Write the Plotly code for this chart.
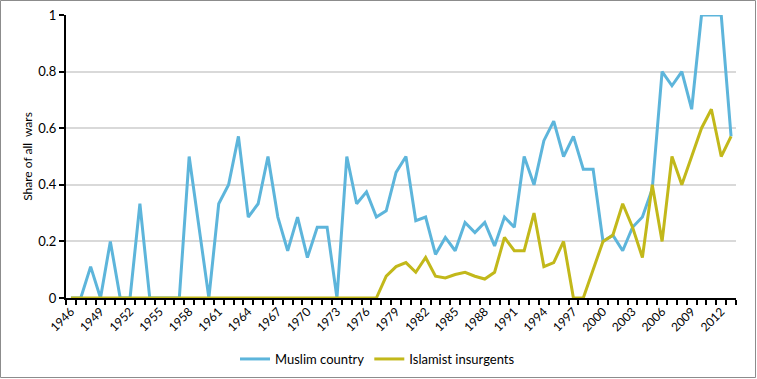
import plotly.graph_objects as go

years = list(range(1946, 2014))

muslim_country = [
    0, 0, 0.111, 0, 0.2, 0, 0, 0.333, 0, 0,
    0, 0, 0.5, 0.25, 0, 0.333, 0.4, 0.571, 0.286, 0.333,
    0.5, 0.286, 0.167, 0.286, 0.143, 0.25, 0.25, 0, 0.5, 0.333,
    0.375, 0.286, 0.308, 0.444, 0.5, 0.273, 0.286, 0.154, 0.214, 0.167,
    0.267, 0.231, 0.267, 0.184, 0.286, 0.25, 0.5, 0.4, 0.556, 0.625,
    0.5, 0.571, 0.455, 0.455, 0.2, 0.222, 0.167, 0.25, 0.286, 0.385,
    0.8, 0.75, 0.8, 0.667, 1.0, 1.0, 1.0, 0.571,
]

islamist_insurgents = [
    0, 0, 0, 0, 0, 0, 0, 0, 0, 0,
    0, 0, 0, 0, 0, 0, 0, 0, 0, 0,
    0, 0, 0, 0, 0, 0, 0, 0, 0, 0,
    0, 0, 0.077, 0.111, 0.125, 0.091, 0.143, 0.077, 0.071, 0.083,
    0.091, 0.077, 0.067, 0.091, 0.214, 0.167, 0.167, 0.3, 0.111, 0.125,
    0.2, 0, 0, 0.1, 0.2, 0.222, 0.333, 0.25, 0.143, 0.4,
    0.2, 0.5, 0.4, 0.5, 0.6, 0.667, 0.5, 0.571,
]

tick_years = list(range(1946, 2013, 3))
tick_labels = [str(y) for y in tick_years]
y_ticks = [0, 0.2, 0.4, 0.6, 0.8, 1]
y_labels = ["0", "0.2", "0.4", "0.6", "0.8", "1"]

W, H = 757, 379
ML, MR, MT, MB = 66, 21, 15, 81
PW, PH = W - ML - MR, H - MT - MB

fig = go.Figure()
fig.add_trace(go.Scatter(x=years, y=muslim_country, mode="lines", name="Muslim country",
                         line=dict(color="#5db5db", width=3)))
fig.add_trace(go.Scatter(x=years, y=islamist_insurgents, mode="lines", name="Islamist insurgents",
                         line=dict(color="#c2b81a", width=3)))

font_family = "Lato, 'Open Sans', sans-serif"

fig.update_layout(
    width=W, height=H,
    margin=dict(l=ML, r=MR, t=MT, b=MB, autoexpand=False),
    paper_bgcolor="white", plot_bgcolor="white",
    font=dict(family=font_family, size=12, color="#000000"),
    showlegend=True,
    legend=dict(orientation="h", x=(235 - ML) / PW, xanchor="left",
                y=(298 - 359) / PH, yanchor="middle",
                font=dict(size=13, family=font_family), itemwidth=30,
                bgcolor="rgba(0,0,0,0)"),
    xaxis=dict(range=[1945.5, 2013.5], tickmode="array", tickvals=tick_years,
               ticktext=tick_labels, tickangle=-45, showgrid=False, automargin=False,
               showline=True, linecolor="black", linewidth=2, ticks="",
               tickfont=dict(size=12), zeroline=False,
               minor=dict(tick0=1945.5, dtick=1, ticks="outside", ticklen=5,
                          tickcolor="black", tickwidth=2, showgrid=False)),
    yaxis=dict(range=[0, 1], tickmode="array", tickvals=y_ticks, ticktext=y_labels,
               showgrid=True, gridcolor="#d9d9d9", gridwidth=1.5, automargin=False,
               showline=True, linecolor="black", linewidth=2,
               ticks="outside", ticklen=5, tickcolor="black", tickwidth=2,
               zeroline=False, tickfont=dict(size=13),
               title=dict(text="Share of all  wars", font=dict(size=12), standoff=3)),
)

fig.add_shape(type="rect", xref="paper", yref="paper",
              x0=-(ML - 0.5) / PW, x1=1 + (MR - 1.5) / PW,
              y0=-(MB - 1.5) / PH, y1=1 + (MT - 0.5) / PH,
              line=dict(color="#8c8c8c", width=1), fillcolor="rgba(0,0,0,0)", layer="below")

fig.write_html("out.html", config={"displayModeBar": False},
               post_script="document.body.style.margin='0';document.body.style.overflow='hidden';")
